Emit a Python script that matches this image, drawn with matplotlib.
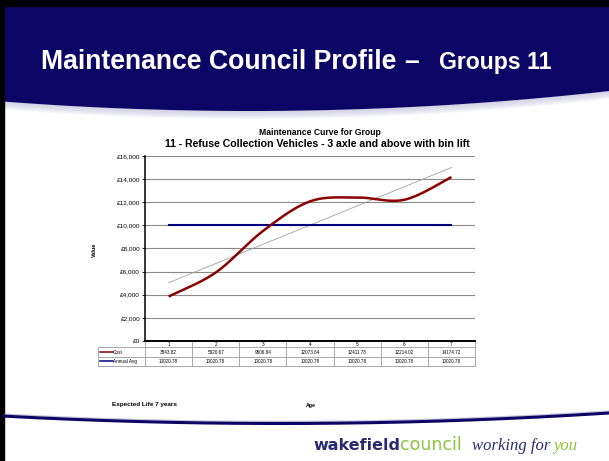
import numpy as np
import matplotlib
matplotlib.use("Agg")
import matplotlib.pyplot as plt
from matplotlib.patches import Rectangle
from matplotlib.transforms import blended_transform_factory

plt.rcParams['font.family'] = 'Liberation Sans'

# chart data
ages = [1, 2, 3, 4, 5, 6, 7]
cost = [3843.82, 5920.67, 9506.84, 12073.64, 12411.78, 12214.02, 14174.72]
annual_avg = [10020.78, 10020.78, 10020.78, 10020.78, 10020.78, 10020.78, 10020.78]
y_ticks = [0, 2000, 4000, 6000, 8000, 10000, 12000, 14000, 16000]
row_labels = ["Cost", "Annual Avg"]

NAVY = "#0d0565"
COST_RED = "#8b0000"
AVG_BLUE = "#000080"
W, H = 609, 461


def smooth(xs, ys, n=40):
    # excel style smoothed line (catmull-rom as bezier)
    p = np.column_stack([xs, ys]).astype(float)
    p = np.vstack([p[0], p, p[-1]])
    t = np.linspace(0, 1, n)[:, None]
    out = []
    for i in range(1, len(p) - 2):
        p0, p3 = p[i], p[i + 1]
        c1 = p0 + (p[i + 1] - p[i - 1]) / 6.0
        c2 = p3 - (p[i + 2] - p[i]) / 6.0
        seg = (1 - t) ** 3 * p0 + 3 * (1 - t) ** 2 * t * c1 + 3 * (1 - t) * t ** 2 * c2 + t ** 3 * p3
        out.append(seg)
    out = np.vstack(out)
    return out[:, 0], out[:, 1]


fig = plt.figure(figsize=(6.09, 4.61), dpi=100)

# slide background in pixel coordinates
bg = fig.add_axes([0, 0, 1, 1])
bg.set_xlim(0, W)
bg.set_ylim(H, 0)
bg.axis("off")

xs = np.linspace(4, W, 400)
edge = 110.5 - 0.000155 * (xs - 250) ** 2
for k in range(8):
    bg.fill_between(xs, edge, edge + 8 - k, color="#b8b8d8", alpha=0.1, lw=0)
bg.fill_between(xs, 6, edge, color=NAVY, lw=0)
bg.add_patch(Rectangle((0, 0), W, 6, color="black"))
bg.add_patch(Rectangle((0, 0), 4, H, color="black"))

bg.text(41, 69, "Maintenance Council Profile", fontsize=19.2, weight="bold",
        color="white", va="baseline", ha="left")
bg.text(404, 69, "\u2013", fontsize=19.2, weight="bold", color="white",
        va="baseline", ha="left")
bg.text(439, 69, "Groups 11", fontsize=16.6, weight="bold", color="white",
        va="baseline", ha="left")

# bottom rule
bx = np.linspace(4, W, 400)
by = 423.5 - 9.7e-5 * (bx - 280) ** 2
bg.plot(bx, by - 2, color="#9090b8", lw=1.0, alpha=0.5)
bg.plot(bx, by, color=NAVY, lw=2.2)

# logo
bg.text(313, 450, "wakefield", fontsize=11.5, weight="bold", family="DejaVu Sans",
        color="#2b2a70", va="baseline")
bg.text(400, 450, "council", fontsize=12.5, family="DejaVu Sans",
        color="#8cc43f", va="baseline")
bg.text(472, 450, "working for", fontsize=12, style="italic", family="Liberation Serif",
        color="#2b2a70", va="baseline")
bg.text(553, 450, "you", fontsize=12, style="italic", family="Liberation Serif",
        color="#8cc43f", va="baseline")

# chart titles and labels
bg.text(320, 132, "Maintenance Curve for Group", fontsize=6.2, weight="bold",
        ha="center", va="center")
bg.text(317.5, 144, "11 - Refuse Collection Vehicles - 3 axle and above with bin lift",
        fontsize=7.6, weight="bold", ha="center", va="center")
bg.text(94.3, 249.5, "Value", fontsize=4, weight="bold", rotation=90,
        ha="center", va="center")
bg.text(111.7, 404, "Expected Life 7 years", fontsize=4.6, weight="bold",
        ha="left", va="center")
bg.text(311, 405, "Age", fontsize=3.8, weight="bold", ha="center", va="center")

# plot area
ax = fig.add_axes([145 / W, (H - 341) / H, 330 / W, 185 / H])
ax.set_xlim(0.5, 7.5)
ax.set_ylim(0, 16000)
ax.set_yticks(y_ticks)
ax.set_yticklabels(["\u00a3{:,}".format(v) for v in y_ticks], fontsize=4.6)
ax.set_xticks([])
ax.yaxis.grid(True, color="#8a8a8a", lw=0.8)
ax.set_axisbelow(True)
ax.tick_params(axis="y", length=2, width=0.6, pad=1.5)
ax.spines["top"].set_visible(False)
ax.spines["right"].set_visible(False)
ax.spines["left"].set_linewidth(1.1)
ax.spines["bottom"].set_linewidth(1.4)
ax.patch.set_alpha(0)

# linear trend of cost
coef = np.polyfit(ages, cost, 1)
ax.plot([ages[0], ages[-1]], np.polyval(coef, [ages[0], ages[-1]]),
        color="#a0a0a0", lw=0.6, zorder=2)
ax.plot(ages, annual_avg, color=AVG_BLUE, lw=1.5, zorder=3)
sx, sy = smooth(ages, cost)
ax.plot(sx, sy, color=COST_RED, lw=1.8, zorder=4, solid_capstyle="butt")

# data table under the chart
tr = blended_transform_factory(ax.transData, bg.transData)
rows_y = [341, 347.3, 356.7, 366]
grid_c = "#9a9a9a"
left = -0.49
for y in rows_y[1:]:
    bg.plot([left, 7.5], [y, y], color=grid_c, lw=0.6, transform=tr, clip_on=False)
for xb in [0.5, 1.5, 2.5, 3.5, 4.5, 5.5, 6.5, 7.5]:
    bg.plot([xb, xb], [rows_y[0], rows_y[-1]], color=grid_c, lw=0.6, transform=tr,
            clip_on=False)
bg.plot([left, left], [rows_y[1], rows_y[-1]], color=grid_c, lw=0.6, transform=tr,
        clip_on=False)

for a in ages:
    bg.text(a, 344.3, str(a), fontsize=3.5, ha="center", va="center", transform=tr)
for a, c, v in zip(ages, cost, annual_avg):
    bg.text(a, 352.1, "{:.2f}".format(c), fontsize=3.3, ha="center", va="center",
            transform=tr)
    bg.text(a, 361.4, "{:.2f}".format(v), fontsize=3.3, ha="center", va="center",
            transform=tr)

for lab, col, y in zip(row_labels, [COST_RED, AVG_BLUE], [352.1, 361.4]):
    bg.plot([99.5, 112.5], [y, y], color=col, lw=1.1)
    bg.text(113, y, lab, fontsize=3.4, ha="left", va="center")

fig.savefig("out.png", dpi=100)
